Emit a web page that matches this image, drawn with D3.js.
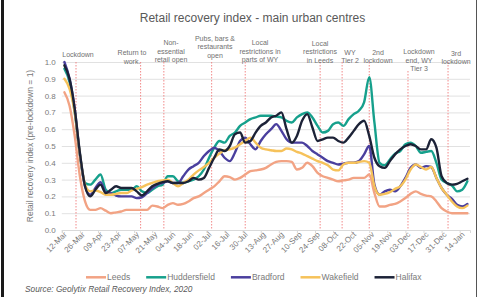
<!DOCTYPE html>
<html><head><meta charset="utf-8">
<script src="https://cdn.jsdelivr.net/npm/d3@7"></script>
<style>
html,body{margin:0;padding:0;background:#fff;}
svg{display:block;font-family:"Liberation Sans",Arial,sans-serif;}
</style></head><body>
<svg id="chart" width="477" height="297"></svg>
<script>
// ---------------- DATA ----------------
const dates = [
"2020-03-14","2020-03-18","2020-03-22","2020-03-26","2020-03-30",
"2020-04-03","2020-04-07","2020-04-11","2020-04-15","2020-04-19","2020-04-23","2020-04-27",
"2020-05-01","2020-05-05","2020-05-09","2020-05-13","2020-05-17","2020-05-21","2020-05-25","2020-05-29",
"2020-06-02","2020-06-06","2020-06-10","2020-06-14","2020-06-18","2020-06-22","2020-06-26","2020-06-30",
"2020-07-04","2020-07-08","2020-07-12","2020-07-16","2020-07-20","2020-07-24","2020-07-28",
"2020-08-01","2020-08-05","2020-08-09","2020-08-13","2020-08-17","2020-08-21","2020-08-25","2020-08-29",
"2020-09-02","2020-09-06","2020-09-10","2020-09-14","2020-09-18","2020-09-22","2020-09-26","2020-09-30",
"2020-10-04","2020-10-08","2020-10-12","2020-10-16","2020-10-20","2020-10-24","2020-10-28",
"2020-11-01","2020-11-05","2020-11-09","2020-11-13","2020-11-17","2020-11-21","2020-11-25","2020-11-29",
"2020-12-03","2020-12-07","2020-12-11","2020-12-15","2020-12-19","2020-12-23","2020-12-27","2020-12-31",
"2021-01-04","2021-01-08","2021-01-12","2021-01-16","2021-01-20"];

const leeds = [0.82,0.74,0.56,0.32,0.17, 0.12,0.12,0.13,0.115,0.10,0.105,0.11,
0.12,0.12,0.12,0.12,0.12,0.145,0.14,0.13, 0.15,0.16,0.15,0.155,0.17,0.19,0.20,0.22,
0.24,0.26,0.29,0.32,0.315,0.30,0.31, 0.33,0.35,0.355,0.36,0.37,0.39,0.405,0.41,
0.41,0.405,0.36,0.37,0.40,0.38,0.34,0.32, 0.31,0.30,0.29,0.295,0.30,0.31,0.31,
0.31,0.33,0.22,0.14,0.14,0.15,0.155,0.17, 0.19,0.215,0.23,0.215,0.205,0.20,0.17,0.13,
0.11,0.10,0.10,0.10,0.10];

const huddersfield = [0.96,0.88,0.70,0.45,0.28, 0.27,0.30,0.33,0.24,0.22,0.23,0.24,
0.24,0.24,0.26,0.23,0.22,0.24,0.26,0.27, 0.32,0.32,0.29,0.28,0.29,0.30,0.32,0.36,
0.43,0.49,0.53,0.52,0.56,0.58,0.62, 0.64,0.66,0.67,0.68,0.68,0.68,0.675,0.67,
0.65,0.64,0.67,0.69,0.70,0.67,0.62,0.58, 0.59,0.63,0.64,0.62,0.66,0.69,0.71,
0.76,0.91,0.64,0.40,0.385,0.42,0.455,0.47, 0.51,0.52,0.50,0.46,0.465,0.47,0.40,0.30,
0.28,0.265,0.23,0.24,0.29];

const bradford = [1.0,0.90,0.72,0.45,0.26, 0.21,0.25,0.285,0.225,0.22,0.205,0.20,
0.20,0.20,0.19,0.195,0.22,0.25,0.27,0.28, 0.29,0.28,0.28,0.32,0.36,0.38,0.40,0.44,
0.47,0.49,0.47,0.43,0.41,0.46,0.53, 0.55,0.51,0.48,0.53,0.57,0.60,0.63,0.59,
0.54,0.52,0.52,0.52,0.50,0.47,0.45,0.43, 0.41,0.40,0.39,0.395,0.40,0.40,0.41,
0.45,0.50,0.27,0.21,0.23,0.24,0.23,0.26, 0.31,0.37,0.39,0.37,0.38,0.375,0.31,0.25,
0.21,0.185,0.15,0.14,0.155];

const wakefield = [0.90,0.84,0.70,0.45,0.27, 0.23,0.235,0.225,0.21,0.21,0.215,0.22,
0.22,0.235,0.245,0.255,0.27,0.28,0.29,0.295, 0.30,0.28,0.26,0.28,0.30,0.33,0.355,0.375,
0.40,0.43,0.455,0.475,0.48,0.49,0.51, 0.53,0.55,0.52,0.49,0.48,0.475,0.47,0.47,
0.485,0.48,0.465,0.455,0.44,0.425,0.41,0.40, 0.385,0.36,0.355,0.39,0.40,0.40,0.405,
0.41,0.40,0.26,0.21,0.215,0.225,0.245,0.26, 0.30,0.36,0.39,0.375,0.36,0.375,0.31,0.25,
0.21,0.17,0.14,0.13,0.145];

const halifax = [0.98,0.90,0.72,0.46,0.26, 0.20,0.24,0.27,0.22,0.24,0.26,0.25,
0.25,0.25,0.23,0.205,0.23,0.26,0.275,0.285, 0.29,0.28,0.28,0.28,0.29,0.31,0.30,0.31,
0.37,0.43,0.48,0.47,0.50,0.57,0.58, 0.52,0.53,0.58,0.62,0.64,0.67,0.68,0.70,
0.60,0.52,0.56,0.65,0.69,0.61,0.53,0.54, 0.55,0.55,0.53,0.52,0.55,0.59,0.63,
0.65,0.56,0.43,0.38,0.37,0.41,0.45,0.48, 0.50,0.51,0.50,0.48,0.48,0.54,0.49,0.32,
0.28,0.27,0.275,0.29,0.305];

const seriesNames = ["Leeds","Huddersfield","Bradford","Wakefield","Halifax"];
const seriesValues = [leeds, huddersfield, bradford, wakefield, halifax];
const seriesColors = ["#F2A384","#16A08C","#4A3F9E","#F6C25A","#1C2237"];

const xTickDates = ["2020-03-12","2020-03-26","2020-04-09","2020-04-23","2020-05-07","2020-05-21",
"2020-06-04","2020-06-18","2020-07-02","2020-07-16","2020-07-30","2020-08-13","2020-08-27",
"2020-09-10","2020-09-24","2020-10-08","2020-10-22","2020-11-05","2020-11-19","2020-12-03",
"2020-12-17","2020-12-31","2021-01-14"];
const yTickValues = [0,0.1,0.2,0.3,0.4,0.5,0.6,0.7,0.8,0.9,1.0];

const eventDates = ["2020-03-23","2020-05-12","2020-05-30","2020-07-06","2020-08-01",
"2020-09-28","2020-10-15","2020-11-05","2020-12-05","2021-01-05"];
const eventLabels = [["Lockdown"],["Return to","work."],["Non-","essential","retail open"],
["Pubs, bars &","restaurants","open"],["Local","restrictions in","parts of WY"],
["Local","restrictions","in Leeds"],["WY","Tier 2"],["2nd","lockdown"],
["Lockdown","end, WY","Tier 3"],["3rd","lockdown"]];

const titleText = "Retail recovery index - main urban centres";
const yTitleText = "Retail recovery index (pre-lockdown = 1)";
const sourceText = "Source: Geolytix Retail Recovery Index, 2020";

// ---------------- LAYOUT ----------------
(function draw() {
const parse = d3.utcParse("%Y-%m-%d");
const svg = d3.select("#chart");
const W = 477, H = 297;
const pL = 61.8, pR = 470, pT = 62, pB = 230;

const x = d3.scaleUtc().domain([parse("2020-03-12"), parse("2021-01-22")]).range([pL, pR]);
const y = d3.scaleLinear().domain([0, 1]).range([pB, pT]);

const textGrey = "#595959";
const axisGrey = "#7a7a7a";

// frame
svg.append("rect").attr("x",0).attr("y",0).attr("width",W).attr("height",H).attr("fill","#fff");
svg.append("rect").attr("x",1).attr("y",0).attr("width",3).attr("height",H).attr("fill","#1a1a1a");
svg.append("line").attr("x1",476.5).attr("x2",476.5).attr("y1",0).attr("y2",H).attr("stroke","#555").attr("stroke-width",1);

// title
svg.append("text").attr("x",252.5).attr("y",21.5).attr("text-anchor","middle")
  .attr("font-size",12).attr("fill",textGrey).text(titleText);

// gridlines
const yAxis = d3.axisLeft(y).tickValues(yTickValues).tickFormat(d3.format(".1f"))
  .tickSize(-(pR-pL)).tickPadding(6);
const gy = svg.append("g").attr("transform",`translate(${pL},0)`).call(yAxis);
gy.select(".domain").remove();
gy.selectAll(".tick line").attr("stroke","#d9d9d9").attr("stroke-width",0.8);
gy.selectAll(".tick text").attr("fill",axisGrey).attr("font-size",8)
  .attr("font-family","Liberation Sans, Arial, sans-serif");

// x axis
const xAxis = d3.axisBottom(x).tickValues(xTickDates.map(parse))
  .tickFormat(d3.utcFormat("%d-%b")).tickSize(3);
const gx = svg.append("g").attr("transform",`translate(0,${pB})`).call(xAxis);
gx.select(".domain").attr("stroke","#d9d9d9");
gx.selectAll(".tick line").attr("stroke","#d9d9d9");
gx.selectAll(".tick text").attr("fill",axisGrey).attr("font-size",8)
  .attr("font-family","Liberation Sans, Arial, sans-serif")
  .attr("text-anchor","end").attr("dy",null).attr("y",0)
  .attr("transform","translate(5,5) rotate(-45)");

// y title
svg.append("text").attr("transform",`translate(33,${(pT+pB)/2}) rotate(-90)`)
  .attr("text-anchor","middle").attr("font-size",8.5).attr("fill",axisGrey).text(yTitleText);

// event lines + labels
const labelLayout = [
  {cx:78, y0:54}, {cx:132, y0:52.7}, {cx:171, y0:42.7}, {cx:215, y0:38.3},
  {cx:260, y0:42.7}, {cx:320, y0:43.3}, {cx:350, y0:52.3}, {cx:378, y0:52.3},
  {cx:419, y0:51.7, lineTop:71}, {cx:456, y0:53.3}
];
eventDates.forEach((ds, i) => {
  const ex = x(parse(ds));
  const lay = labelLayout[i];
  svg.append("line").attr("x1",ex).attr("x2",ex)
    .attr("y1", lay.lineTop || pT).attr("y2", pB)
    .attr("stroke","#F07C7C").attr("stroke-width",0.9).attr("stroke-dasharray","1.5,1.5");
  const t = svg.append("text").attr("text-anchor","middle").attr("font-size",7).attr("fill","#707070");
  eventLabels[i].forEach((s, k) => {
    t.append("tspan").attr("x", lay.cx).attr("y", lay.y0 + 2.5 + k*8.5).text(s);
  });
});

// series lines
const line = d3.line()
  .x((d,i) => x(parse(dates[i])))
  .y(d => y(d))
  .curve(d3.curveMonotoneX);
seriesValues.forEach((vals, si) => {
  svg.append("path").datum(vals).attr("d", line)
    .attr("fill","none").attr("stroke", seriesColors[si])
    .attr("stroke-width",2.4).attr("stroke-linejoin","round").attr("stroke-linecap","round");
});

// legend
let lx = 86;
const ly = 277.3;
seriesNames.forEach((n, i) => {
  svg.append("line").attr("x1",lx).attr("x2",lx+20).attr("y1",ly).attr("y2",ly)
    .attr("stroke",seriesColors[i]).attr("stroke-width",2.5);
  const t = svg.append("text").attr("x",lx+21).attr("y",ly+3).attr("font-size",8.5)
    .attr("fill",axisGrey).text(n);
  lx = lx + 21 + t.node().getComputedTextLength() + 16;
});

// source
svg.append("text").attr("x",25).attr("y",292).attr("font-size",8.3).attr("font-style","italic")
  .attr("fill",textGrey).text(sourceText);
})();
</script>
</body></html>
